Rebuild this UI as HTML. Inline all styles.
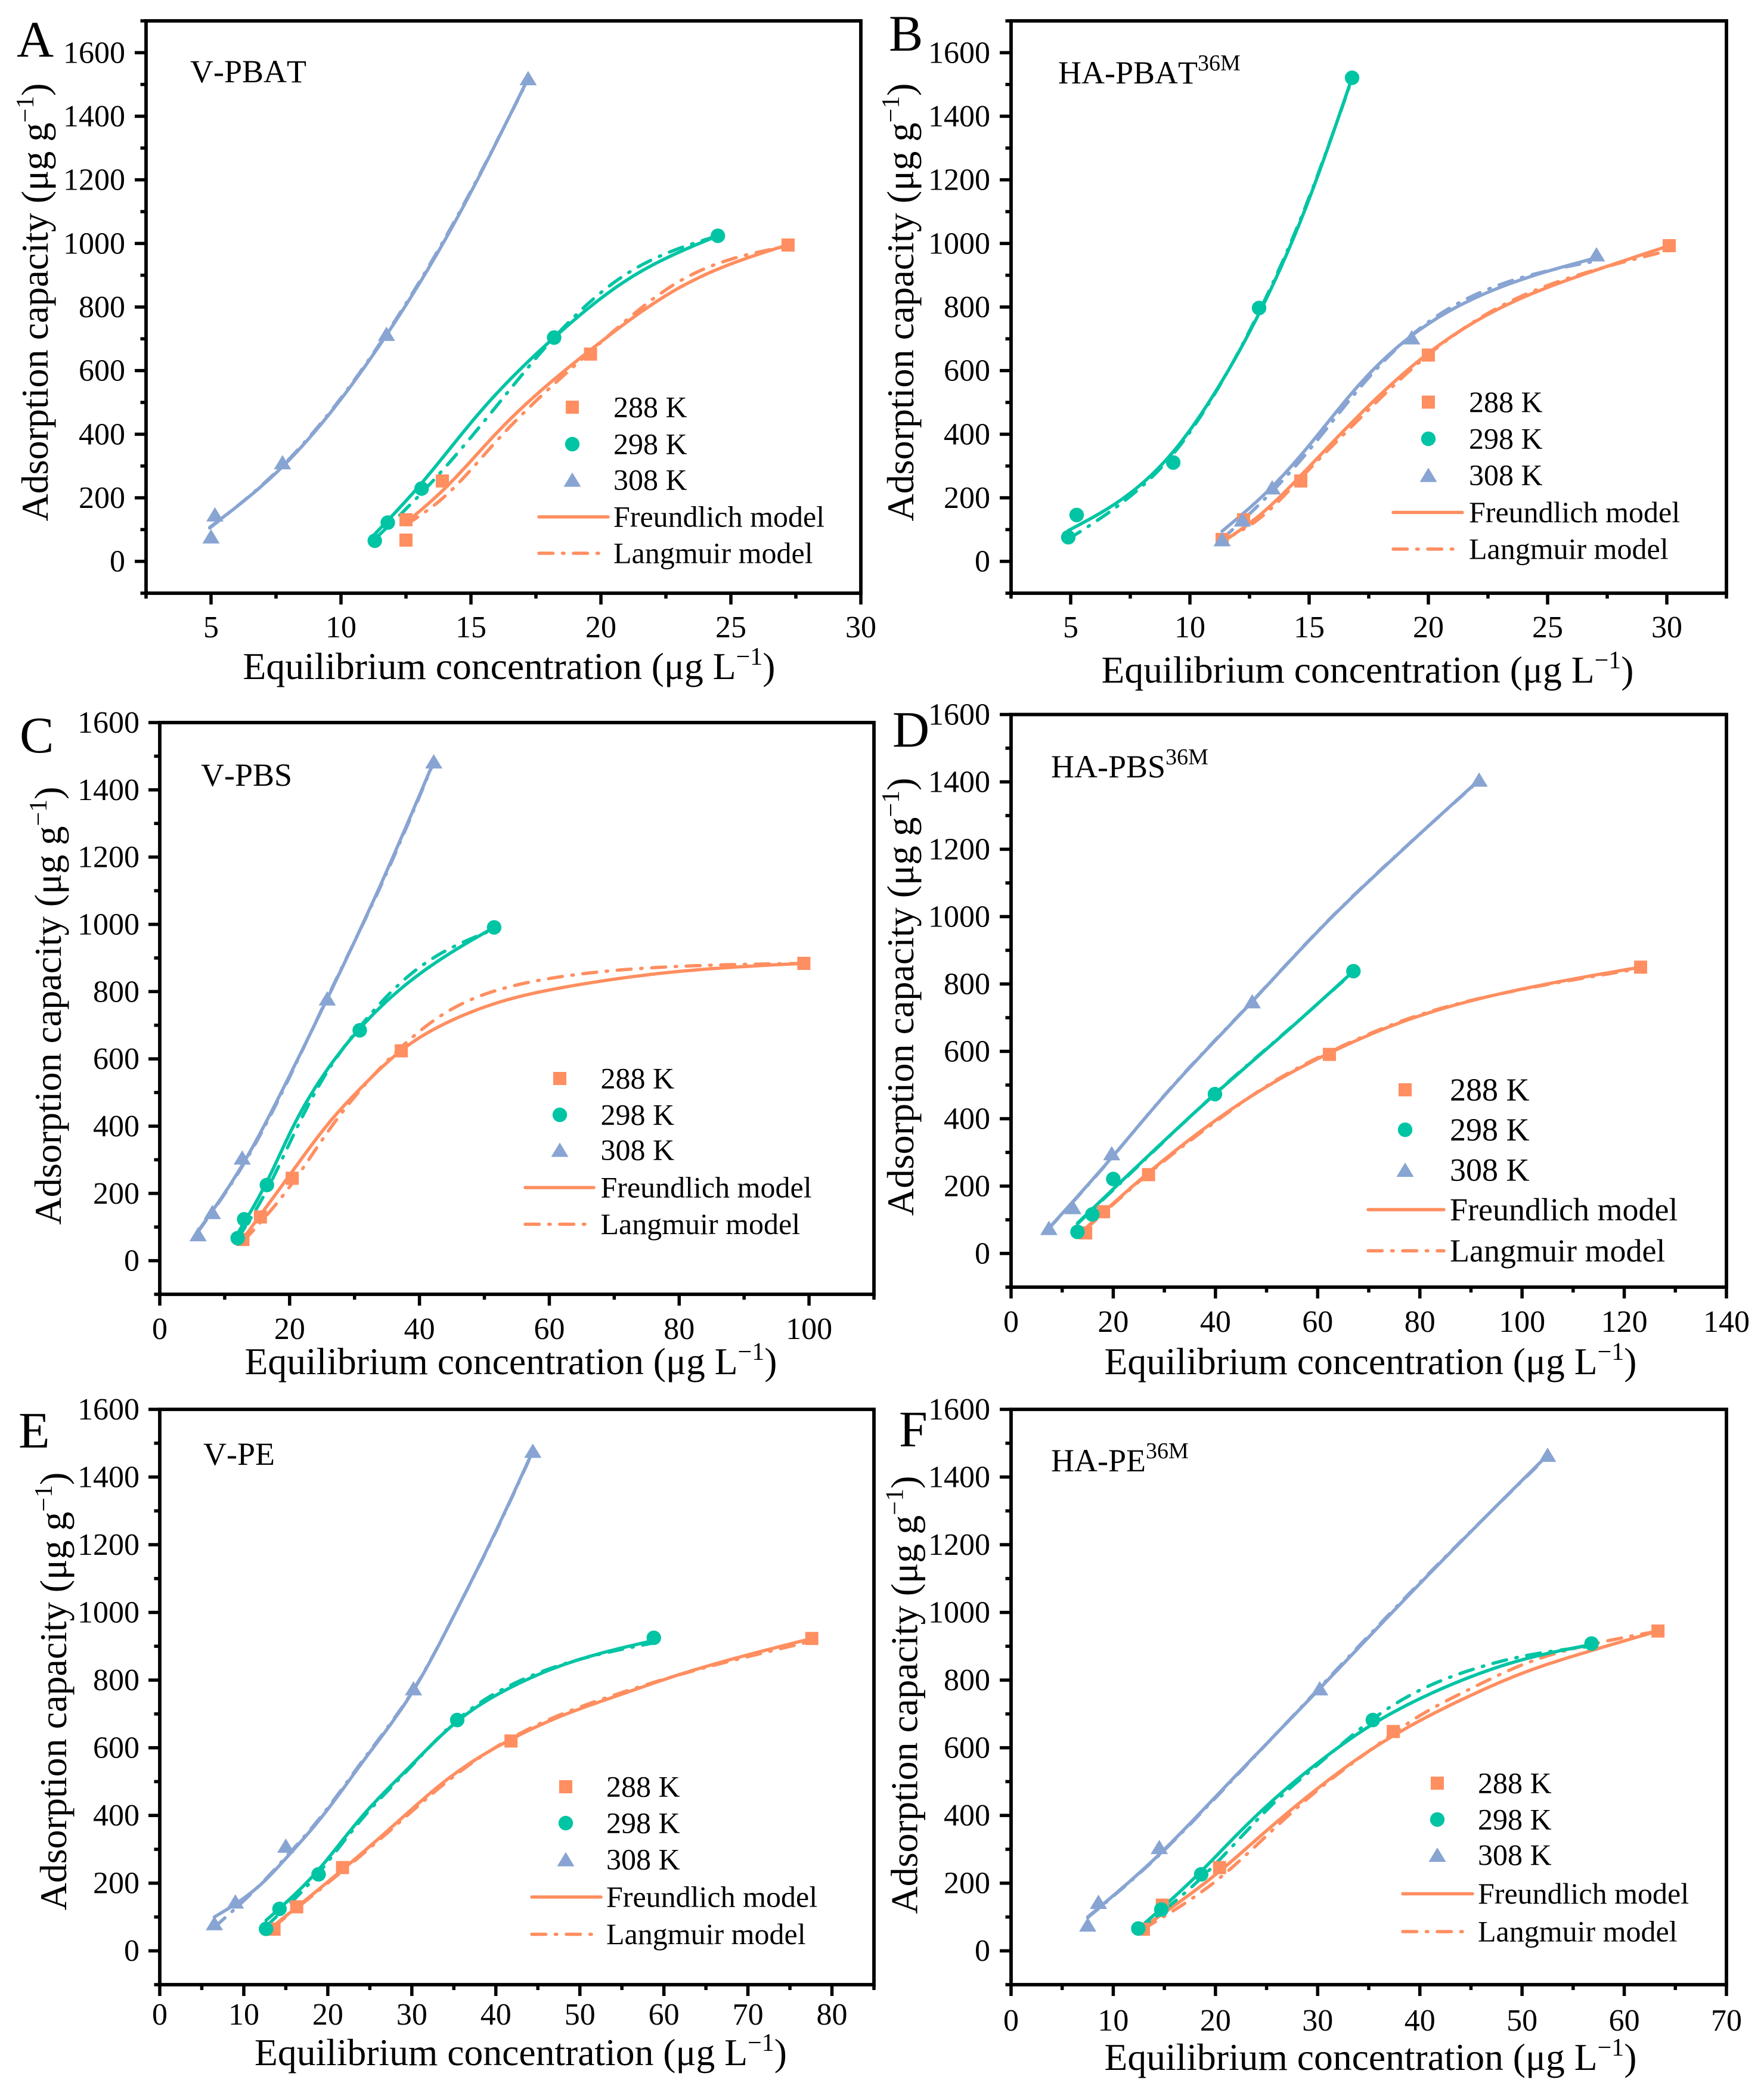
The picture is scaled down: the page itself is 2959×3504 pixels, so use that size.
<!DOCTYPE html>
<html lang="en">
<head>
<meta charset="utf-8">
<title>Adsorption isotherms</title>
<style>
html,body{margin:0;padding:0;background:#fff;}
svg{display:block;font-family:"Liberation Serif",serif;}
</style>
</head>
<body>
<svg id="figure" xmlns="http://www.w3.org/2000/svg" width="2959" height="3504" viewBox="0 0 2959 3504"></svg>
<script>
// ---------- tick labels ----------
const yTicks = [0,200,400,600,800,1000,1200,1400,1600];
const xTicksA = [5,10,15,20,25,30];
const xTicksB = [5,10,15,20,25,30];
const xTicksC = [0,20,40,60,80,100];
const xTicksD = [0,20,40,60,80,100,120,140];
const xTicksE = [0,10,20,30,40,50,60,70,80];
const xTicksF = [0,10,20,30,40,50,60,70];

// ---------- panel A: V-PBAT ----------
const A288pts = [[12.5,67],[12.5,131],[13.9,253],[19.6,652],[27.2,995]];
const A298pts = [[11.3,65],[11.8,122],[13.1,229],[18.2,704],[24.5,1024]];
const A308pts = [[5,78],[5.15,147],[7.75,311],[11.75,715],[17.2,1519]];
const A288F = [[12.5,122],[14,230],[16,405],[19.6,665],[23,860],[27.2,996]];
const A288L = [[12.5,115],[14,205],[16,380],[19.6,660],[23,880],[27.2,992]];
const A298F = [[11.3,86],[13.1,246],[15.3,465],[18.2,704],[21,885],[24.5,1024]];
const A298L = [[11.3,70],[13.1,215],[15.3,420],[18.2,704],[21,905],[24.5,1024]];
const A308F = [[4.95,107],[7.75,298],[11.75,712],[14.3,1055],[17.2,1519]];
const A308L = [[4.95,105],[7.75,301],[11.75,716],[14.3,1060],[17.2,1516]];

// ---------- panel B: HA-PBAT 36M ----------
const B288pts = [[11.35,69],[12.25,131],[14.65,253],[20,649],[30.1,993]];
const B298pts = [[4.9,76],[5.25,146],[9.3,311],[12.9,797],[16.8,1521]];
const B308pts = [[11.35,69],[12.2,131],[13.45,232],[19.3,704],[27.05,965]];
const B288F = [[11.35,60],[13,150],[14.65,270],[16.7,430],[20,655],[23.1,800],[26.6,905],[30.1,993]];
const B288L = [[11.35,65],[13,140],[14.65,262],[16.7,418],[20,650],[23.1,805],[26.6,908],[30.1,978]];
const B298F = [[4.9,97],[7.5,215],[9.3,345],[11,525],[12.9,780],[15,1140],[16.8,1521]];
const B298L = [[4.9,70],[7.5,205],[9.3,338],[11,522],[12.9,785],[15,1145],[16.8,1517]];
const B308F = [[11.35,95],[13.45,235],[15,365],[17.15,560],[19.3,710],[22,830],[27.05,955]];
const B308L = [[11.35,70],[13.45,220],[15,350],[17.15,548],[19.3,712],[22,840],[27.05,945]];

// ---------- panel C: V-PBS ----------
const C288pts = [[12.8,63],[15.5,130],[20.4,245],[37.2,624],[99.2,884]];
const C298pts = [[12,67],[13,123],[16.5,225],[30.8,685],[51.5,991]];
const C308pts = [[5.9,78],[8.1,144],[12.7,306],[25.8,779],[42.2,1484]];
const C288F = [[13,70],[20.4,265],[26.5,420],[30.8,510],[37.2,625],[44.7,712],[53.4,775],[62,812],[80,860],[99.2,884]];
const C288L = [[13,60],[20.4,230],[26.5,400],[30.8,505],[37.2,635],[44.7,745],[53.4,812],[62,845],[80,875],[99.2,884]];
const C298F = [[12,81],[16.5,235],[20.45,395],[24.8,540],[30.8,690],[39.5,845],[51.5,991]];
const C298L = [[12,65],[16.5,210],[20.5,370],[24.8,530],[30.8,695],[39.5,865],[51.5,985]];
const C308F = [[5.9,88],[12.7,284],[19.6,535],[25.8,779],[34.3,1130],[42.2,1484]];
const C308L = [[5.9,86],[12.7,280],[19.6,530],[25.8,782],[34.3,1125],[42.2,1482]];

// ---------- panel D: HA-PBS 36M ----------
const D288pts = [[14.6,61],[18.1,124],[26.9,234],[62.3,591],[123.2,850]];
const D298pts = [[13,64],[15.9,116],[20,221],[39.9,473],[67,838]];
const D308pts = [[7.4,75],[12.1,137],[19.7,297],[47.2,748],[91.6,1406]];
const D288F = [[14.6,75],[26.9,240],[40,395],[50,495],[62.3,595],[77,690],[100,785],[123.2,850]];
const D288L = [[14.6,72],[26.9,237],[40,391],[50,497],[62.3,598],[77,693],[100,784],[123.2,846]];
const D298F = [[13,90],[26.5,285],[39.9,473],[54,660],[67,838]];
const D298L = [[13,88],[26.5,283],[39.9,474],[54,661],[67,836]];
const D308F = [[7.4,75],[19.7,285],[29.8,465],[47.2,748],[60.6,965],[73.9,1160],[91.6,1406]];
const D308L = [[7.4,74],[19.7,284],[29.8,466],[47.2,749],[60.6,966],[73.9,1161],[91.6,1404]];

// ---------- panel E: V-PE ----------
const E288pts = [[13.6,64],[16.3,130],[21.75,246],[41.8,620],[77.6,923]];
const E298pts = [[12.65,65],[14.25,124],[18.9,226],[35.4,682],[58.8,925]];
const E308pts = [[6.5,81],[9,145],[15,310],[30.2,775],[44.4,1477]];
const E288F = [[13.6,75],[21.75,240],[27.8,370],[34.5,512],[41.8,625],[47.9,695],[54.6,755],[61.3,812],[69.3,870],[77.6,923]];
const E288L = [[13.6,72],[21.75,236],[27.8,364],[34.5,506],[41.8,628],[47.9,700],[54.6,760],[61.3,812],[69.3,865],[77.6,915]];
const E298F = [[12.65,90],[18.9,240],[24,395],[29.2,530],[35.4,678],[41.2,771],[47.9,844],[58.8,917]];
const E298L = [[12.65,72],[18.9,230],[24,388],[29.2,526],[35.4,682],[41.2,778],[47.9,846],[58.8,910]];
const E308F = [[6.5,100],[12.45,206],[15,273],[19.1,390],[24.5,570],[30.2,770],[35.2,1000],[39.9,1235],[44.4,1477]];
const E308L = [[6.5,70],[12.45,208],[15,277],[19.1,394],[24.5,574],[30.2,772],[35.2,1000],[39.9,1233],[44.4,1475]];

// ---------- panel F: HA-PE 36M ----------
const F288pts = [[12.95,64],[14.8,135],[20.4,246],[37.4,648],[63.3,945]];
const F298pts = [[12.45,66],[14.7,122],[18.6,226],[35.4,682],[56.8,908]];
const F308pts = [[7.5,77],[8.55,144],[14.5,306],[30.2,775],[52.5,1465]];
const F288F = [[12.95,70],[20.4,235],[25,355],[30,480],[35,590],[40,680],[45,755],[50,820],[56,880],[63.3,945]];
const F288L = [[12.95,65],[20.4,215],[25,340],[30,475],[35,590],[40,695],[45,775],[50,845],[56,900],[63.3,945]];
const F298F = [[12.45,65],[18.6,235],[22,340],[26,455],[30,555],[35.4,670],[40,745],[45,810],[50,860],[56.8,905]];
const F298L = [[12.45,60],[18.6,215],[22,320],[26,445],[30,550],[35.4,685],[40,770],[45,830],[50,870],[56.8,900]];
const F308F = [[7.5,100],[14.5,285],[20,455],[30.2,775],[40,1085],[52.5,1465]];
const F308L = [[7.5,98],[14.5,283],[20,452],[30.2,778],[40,1088],[52.5,1462]];

// ---------- styling and layout ----------
const ORANGE = '#FF8E60', TEAL = '#00C4A4', BLUE = '#88A4D2';
const NS = 'http://www.w3.org/2000/svg';
const svg = document.getElementById('figure');

function mk(parent, tag, name, attrs) {
  const el = document.createElementNS(NS, tag);
  
  
  for (const k in attrs) el.setAttribute(k, attrs[k]);
  parent.appendChild(el);
  return el;
}
function span(parent, str, attrs) {
  const t = document.createElementNS(NS, 'tspan');
  for (const k in attrs) t.setAttribute(k, attrs[k]);
  t.textContent = str;
  parent.appendChild(t);
}
// natural cubic spline through read-off knots, evaluated in data space
function curve(knots, sx, sy) {
  const n = knots.length;
  const xs = knots.map(function (k) { return k[0]; });
  const ys = knots.map(function (k) { return k[1]; });
  const m = new Array(n).fill(0), u = new Array(n).fill(0);
  for (let i = 1; i < n - 1; i++) {
    const sig = (xs[i] - xs[i - 1]) / (xs[i + 1] - xs[i - 1]);
    const p = sig * m[i - 1] + 2;
    m[i] = (sig - 1) / p;
    const d = (ys[i + 1] - ys[i]) / (xs[i + 1] - xs[i]) - (ys[i] - ys[i - 1]) / (xs[i] - xs[i - 1]);
    u[i] = (6 * d / (xs[i + 1] - xs[i - 1]) - sig * u[i - 1]) / p;
  }
  for (let i = n - 2; i >= 0; i--) m[i] = m[i] * m[i + 1] + u[i];
  let d = 'M' + sx(xs[0]).toFixed(1) + ' ' + sy(ys[0]).toFixed(1);
  for (let i = 0; i < n - 1; i++) {
    const h = xs[i + 1] - xs[i];
    for (let j = 1; j <= 16; j++) {
      const b = j / 16, a = 1 - b;
      const v = a * ys[i] + b * ys[i + 1] + ((a * a * a - a) * m[i] + (b * b * b - b) * m[i + 1]) * h * h / 6;
      d += 'L' + sx(xs[i] + b * h).toFixed(1) + ' ' + sy(v).toFixed(1);
    }
  }
  return d;
}
function marker(g, kind, cx, cy, color, name) {
  if (kind === 'square') {
    mk(g, 'rect', name, {x: cx - 11, y: cy - 11, width: 22, height: 22, fill: color});
  } else if (kind === 'circle') {
    mk(g, 'circle', name, {cx: cx, cy: cy, r: 12.2, fill: color});
  } else {
    mk(g, 'polygon', name, {points: (cx - 14.5) + ',' + (cy + 11.5) + ' ' + (cx + 14.5) + ',' + (cy + 11.5) + ' ' + cx + ',' + (cy - 12.5), fill: color});
  }
}

const panels = [
  {id:'a', letter:'A', lx:28, ly:95, box:[245,1444,35,995], xd:[2.5,30], yd:[-100,1700], xMinorStep:2.5, xt:xTicksA,
   tag:'V-PBAT', sup:'', tx:319, ty:120, yl:210, xl:1069, xtc:854, xtb:1139, ytx:80, ytc:507,
   leg:{x1:904,x2:1020,x3:1008,mx:960,tx:1029,rows:[683,745,805,867,928],fs:50},
   s:[A288pts,A298pts,A308pts,A288F,A298F,A308F,A288L,A298L,A308L]},
  {id:'b', letter:'B', lx:1491, ly:85, box:[1696,2896,35,995], xd:[2.5,32.5], yd:[-100,1700], xMinorStep:2.5, xt:xTicksB,
   tag:'HA-PBAT', sup:'36M', tx:1775, ty:122, yl:1661, xl:1069, xtc:2294, xtb:1145, ytx:1532, ytc:507,
   leg:{x1:2337,x2:2453,x3:2443,mx:2396,tx:2464,rows:[674.5,736,797,859.5,921],fs:50},
   s:[B288pts,B298pts,B308pts,B288F,B298F,B308F,B288L,B298L,B308L]},
  {id:'c', letter:'C', lx:33, ly:1262, box:[268,1466,1212,2171], xd:[0,110], yd:[-100,1600], xMinorStep:10, xt:xTicksC,
   tag:'V-PBS', sup:'', tx:337, ty:1300, yl:234, xl:2246, xtc:857, xtb:2305, ytx:102, ytc:1687,
   leg:{x1:881,x2:996,x3:986,mx:939,tx:1007.5,rows:[1809,1870,1929,1992,2053.5],fs:50},
   s:[C288pts,C298pts,C308pts,C288F,C298F,C308F,C288L,C298L,C308L]},
  {id:'d', letter:'D', lx:1497, ly:1252.5, box:[1696,2896,1198.5,2159], xd:[0,140], yd:[-100,1600], xMinorStep:10, xt:xTicksD,
   tag:'HA-PBS', sup:'36M', tx:1763, ty:1286, yl:1661, xl:2234, xtc:2299, xtb:2305, ytx:1532, ytc:1672,
   leg:{x1:2295,x2:2422,x3:2422,mx:2357,tx:2432,rows:[1828,1895,1962.5,2029,2098],fs:54},
   s:[D288pts,D298pts,D308pts,D288F,D298F,D308F,D288L,D298L,D308L]},
  {id:'e', letter:'E', lx:31, ly:2428, box:[268,1466,2364,3329], xd:[0,85], yd:[-100,1600], xMinorStep:5, xt:xTicksE,
   tag:'V-PE', sup:'', tx:341, ty:2439, yl:234, xl:3396, xtc:873.5, xtb:3464, ytx:111, ytc:2837,
   leg:{x1:892,x2:1008,x3:998,mx:949,tx:1017,rows:[2997,3058,3119,3182,3244.5],fs:50},
   s:[E288pts,E298pts,E308pts,E288F,E298F,E308F,E288L,E298L,E308L]},
  {id:'f', letter:'F', lx:1508, ly:2426, box:[1696,2896,2364,3329], xd:[0,70], yd:[-100,1600], xMinorStep:5, xt:xTicksF,
   tag:'HA-PE', sup:'36M', tx:1763, ty:2450, yl:1661, xl:3406, xtc:2299, xtb:3472, ytx:1538.5, ytc:2843,
   leg:{x1:2353,x2:2470,x3:2460,mx:2411,tx:2479,rows:[2991,3052,3111.5,3176.5,3240],fs:50},
   s:[F288pts,F298pts,F308pts,F288F,F298F,F308F,F288L,F298L,F308L]}
];
const temps = ['288 K','298 K','308 K'];
const tempIds = ['288k','298k','308k'];
const kinds = ['square','circle','triangle'];
const colors = [ORANGE, TEAL, BLUE];
const DASH = '23.5 16 2.5 16';

panels.forEach(function (P) {
  const L = P.box[0], R = P.box[1], T = P.box[2], B = P.box[3];
  const sx = function (v) { return L + (v - P.xd[0]) / (P.xd[1] - P.xd[0]) * (R - L); };
  const sy = function (v) { return B - (v - P.yd[0]) / (P.yd[1] - P.yd[0]) * (B - T); };
  const g = mk(svg, 'g', 'panel-' + P.id, {});

  mk(g, 'text', 'panel-letter-' + P.id, {x: P.lx, y: P.ly, 'font-size': 86, fill: '#000'}).textContent = P.letter;

  // frame
  mk(g, 'rect', 'plot-frame', {x: L, y: T, width: R - L, height: B - T, fill: 'none', stroke: '#000', 'stroke-width': 5.8});

  // y ticks
  const yAxis = mk(g, 'g', 'y-axis', {});
  for (let v = P.yd[0]; v <= P.yd[1]; v += 100) {
    const major = v % 200 === 0;
    mk(yAxis, 'line', major ? 'y-major-tick' : 'y-minor-tick', {x1: L, x2: L - (major ? 19 : 9.5), y1: sy(v), y2: sy(v), stroke: '#000', 'stroke-width': 5.5});
  }
  yTicks.forEach(function (v) {
    const t = mk(yAxis, 'text', 'y-tick-label', {x: P.yl, y: sy(v) + 17, 'font-size': 52, 'text-anchor': 'end', fill: '#000'});
    t.textContent = v;
  });

  // x ticks
  const xAxis = mk(g, 'g', 'x-axis', {});
  const step = P.xMinorStep;
  for (let i = 0; P.xd[0] + i * step <= P.xd[1] + 1e-6; i++) {
    const v = P.xd[0] + i * step;
    const major = P.xt.indexOf(v) >= 0;
    mk(xAxis, 'line', major ? 'x-major-tick' : 'x-minor-tick', {x1: sx(v), x2: sx(v), y1: B, y2: B + (major ? 19 : 9), stroke: '#000', 'stroke-width': 5.5});
  }
  P.xt.forEach(function (v) {
    const t = mk(xAxis, 'text', 'x-tick-label', {x: sx(v), y: P.xl, 'font-size': 52, 'text-anchor': 'middle', fill: '#000'});
    t.textContent = v;
  });

  // axis titles
  const xt = mk(g, 'text', 'x-axis-title', {x: P.xtc, y: P.xtb, 'font-size': 63.6, 'text-anchor': 'middle', fill: '#000'});
  span(xt, 'Equilibrium concentration (μg L', {});
  span(xt, '−1', {dy: -24, 'font-size': 42});
  span(xt, ')', {dy: 24});
  const yt = mk(g, 'text', 'y-axis-title', {x: P.ytx, y: P.ytc, 'font-size': 64, 'text-anchor': 'middle', fill: '#000', transform: 'rotate(-90 ' + P.ytx + ' ' + P.ytc + ')'});
  span(yt, 'Adsorption capacity (μg g', {});
  span(yt, '−1', {dy: -24, 'font-size': 42});
  span(yt, ')', {dy: 24});

  // sample tag
  const tag = mk(g, 'text', 'sample-label', {x: P.tx, y: P.ty + 18, 'font-size': 54, fill: '#000', style: 'font-kerning:none'});
  span(tag, P.tag, {});
  if (P.sup) span(tag, P.sup, {dy: -22, 'font-size': 38});

  // series: curves drawn from the value arrays
  for (let i = 0; i < 3; i++) {
    mk(g, 'path', 'freundlich-curve-' + tempIds[i], {
      d: curve(P.s[3 + i], sx, sy),
      fill: 'none', stroke: colors[i], 'stroke-width': 5.5, 'stroke-linejoin': 'round', 'stroke-linecap': 'round'});
    mk(g, 'path', 'langmuir-curve-' + tempIds[i], {
      d: curve(P.s[6 + i], sx, sy),
      fill: 'none', stroke: colors[i], 'stroke-width': 5.5, 'stroke-dasharray': DASH, 'stroke-linecap': 'round'});
  }
  for (let i = 0; i < 3; i++) {
    const sg = mk(g, 'g', 'series-' + tempIds[i], {});
    P.s[i].forEach(function (p) {
      marker(sg, kinds[i], sx(p[0]), sy(p[1]), colors[i], 'point-' + tempIds[i]);
    });
  }

  // legend
  const lg = mk(g, 'g', 'legend', {});
  const Q = P.leg;
  for (let i = 0; i < 3; i++) {
    marker(lg, kinds[i], Q.mx, Q.rows[i], colors[i], 'legend-marker-' + tempIds[i]);
    mk(lg, 'text', 'legend-label-' + tempIds[i], {x: Q.tx, y: Q.rows[i] + Q.fs * 0.33, 'font-size': Q.fs, fill: '#000'}).textContent = temps[i];
  }
  mk(lg, 'line', 'legend-line-freundlich', {x1: Q.x1, x2: Q.x2, y1: Q.rows[3], y2: Q.rows[3], stroke: ORANGE, 'stroke-width': 5.5, 'stroke-linecap': 'round'});
  mk(lg, 'text', 'legend-label-freundlich', {x: Q.tx, y: Q.rows[3] + Q.fs * 0.33, 'font-size': Q.fs, fill: '#000'}).textContent = 'Freundlich model';
  mk(lg, 'line', 'legend-line-langmuir', {x1: Q.x1, x2: Q.x3, y1: Q.rows[4], y2: Q.rows[4], stroke: ORANGE, 'stroke-width': 5.5, 'stroke-dasharray': DASH, 'stroke-linecap': 'round'});
  mk(lg, 'text', 'legend-label-langmuir', {x: Q.tx, y: Q.rows[4] + Q.fs * 0.33, 'font-size': Q.fs, fill: '#000'}).textContent = 'Langmuir model';
});
</script>
</body>
</html>
